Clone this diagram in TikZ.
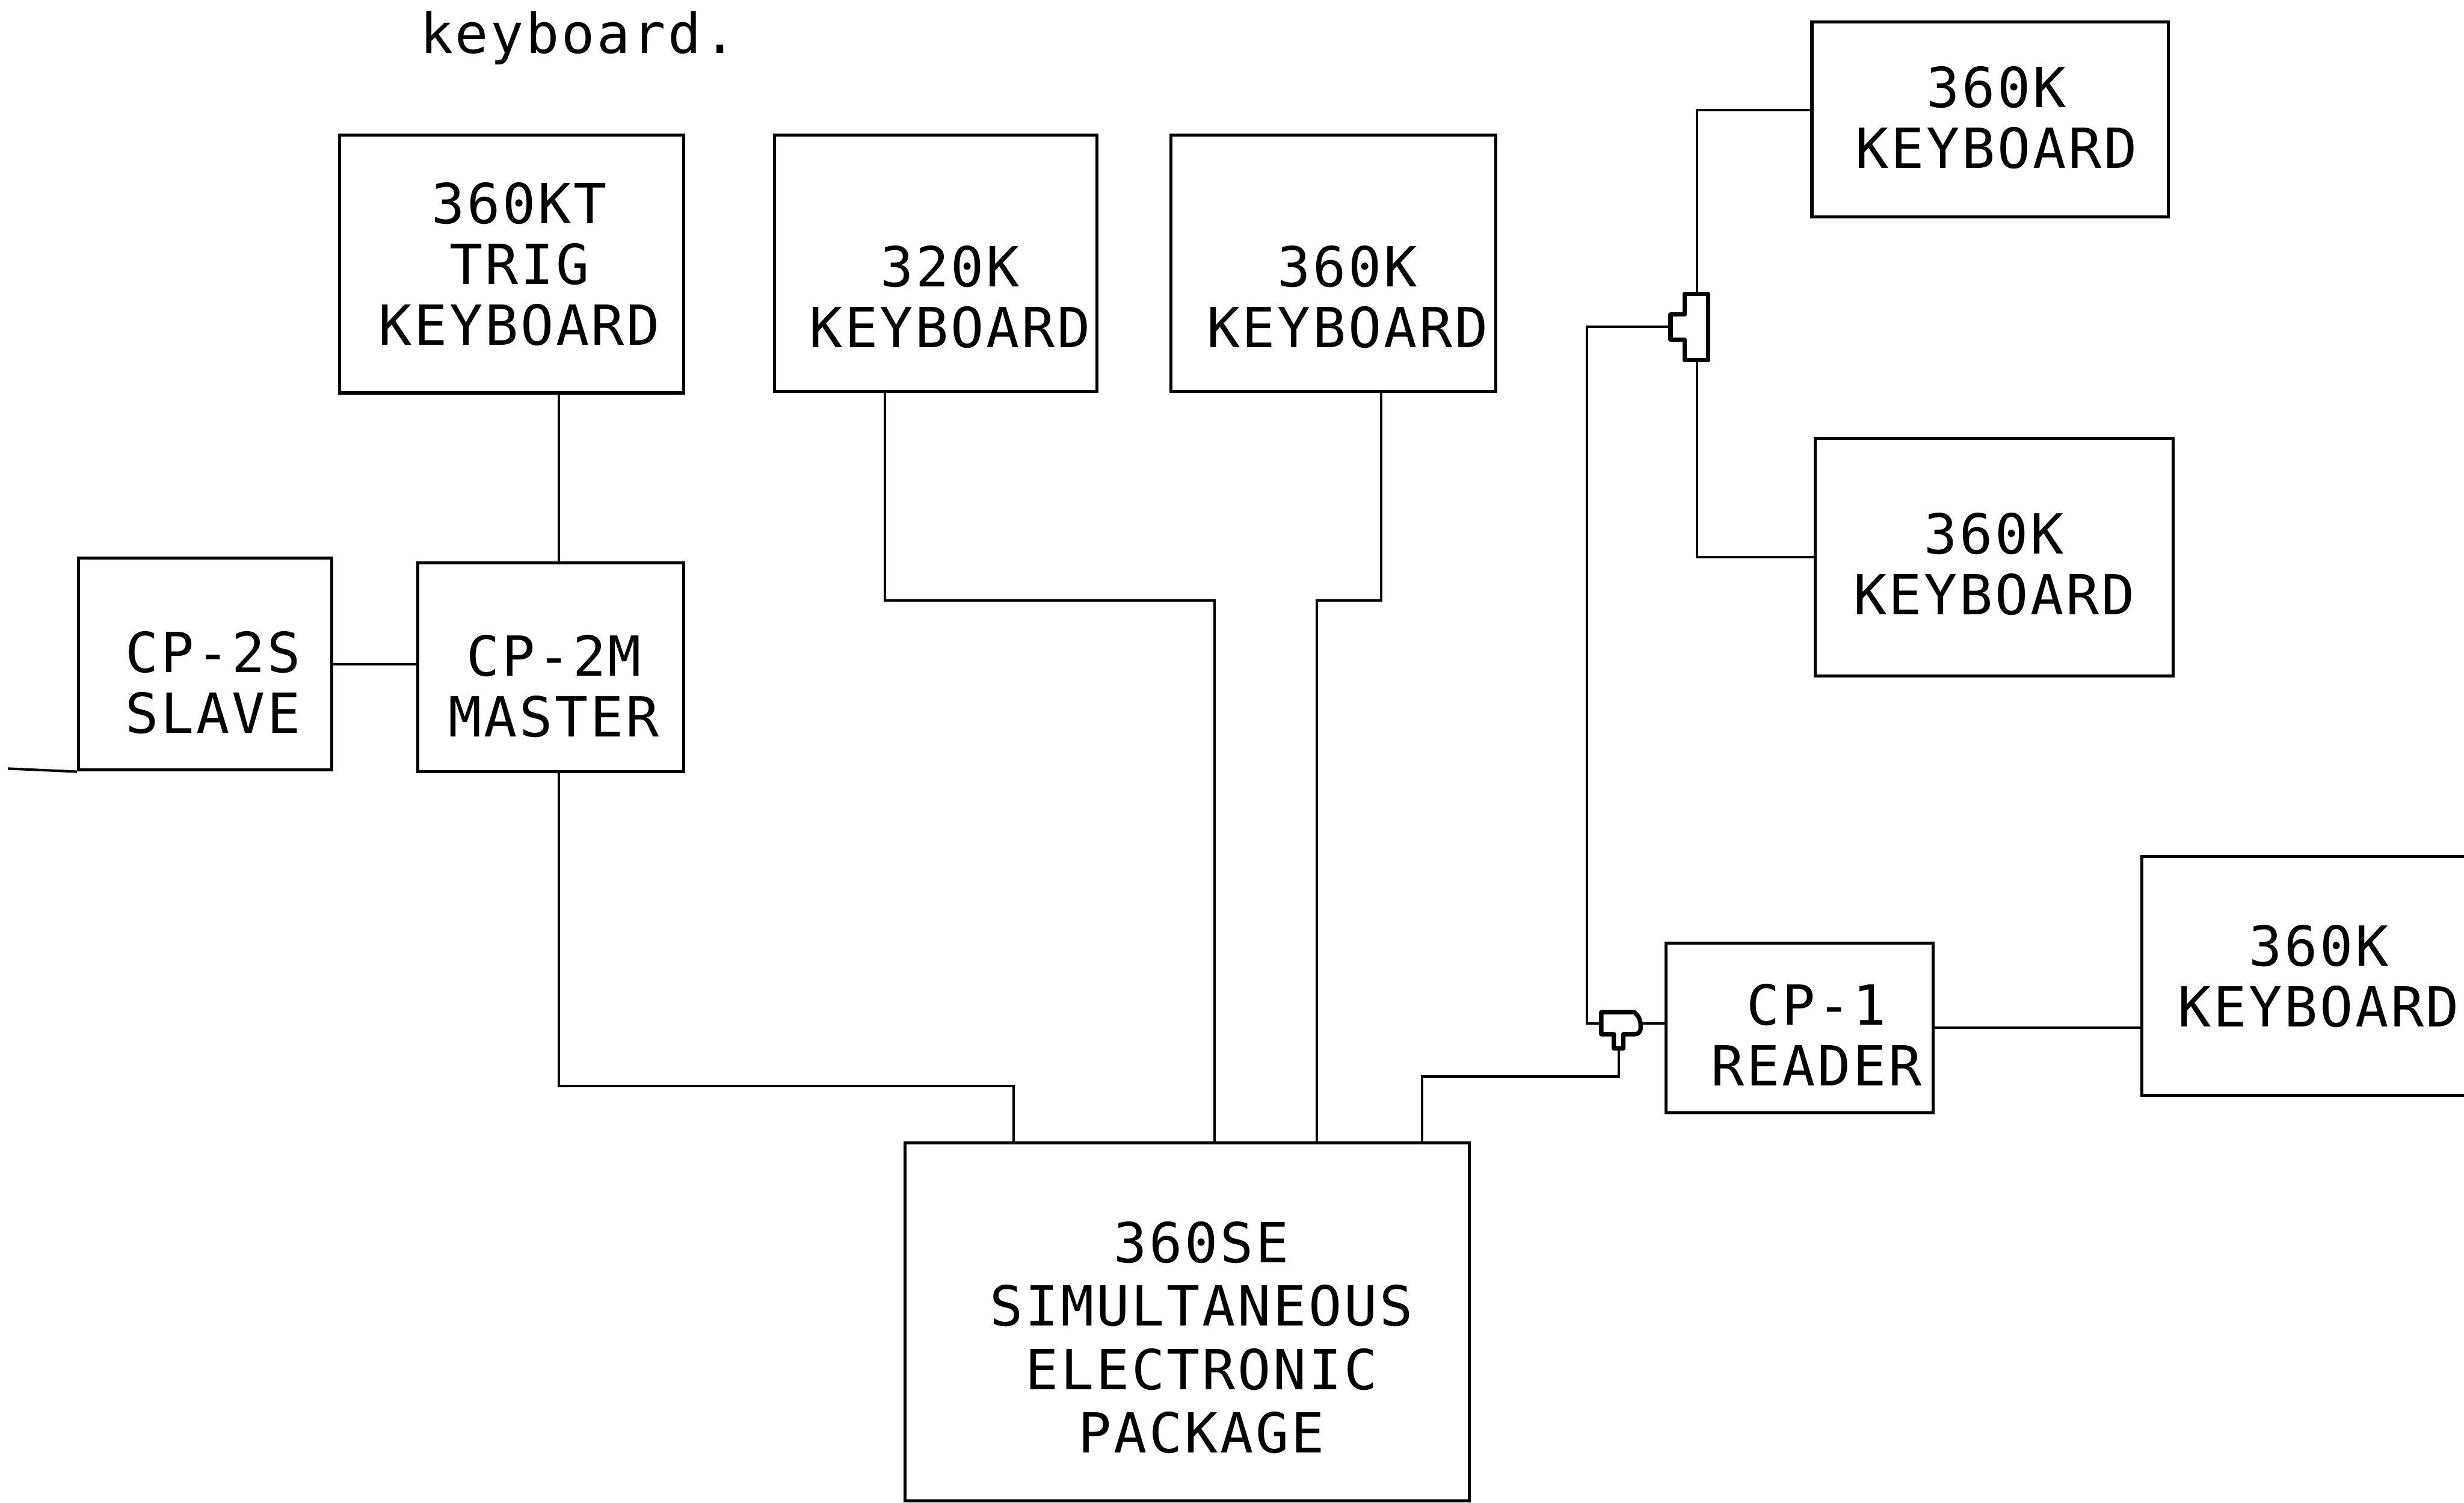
\documentclass[tikz,border=0pt]{standalone}
\usepackage{fontspec}
\newfontfamily\typefont[LetterSpace=4]{DejaVu Sans Mono}
\usetikzlibrary{positioning}

\begin{document}
\begin{tikzpicture}[x=0.02cm, y=-0.02cm,
    font=\typefont\fontsize{20}{22}\selectfont,
    box/.style={draw, line width=1.1pt, inner sep=0pt},
    txt/.style={align=center, inner sep=0pt},
    wire/.style={line width=0.9pt},
    tee/.style={line width=1.6pt, line join=round}]
  \useasboundingbox (0,0) rectangle (1568,956);
  \node[anchor=base west] (note) at (261,34) {keyboard.};
  % keyboards along the top
  \node[box, minimum width=4.38cm, minimum height=3.28cm, label={[txt, xshift=0.1cm]center:360KT\\TRIG\\KEYBOARD}] (trig) at (325.5,168) {};
  \node[box, minimum width=4.10cm, minimum height=3.26cm, label={[txt, xshift=0.18cm, yshift=-0.43cm]center:320K\\KEYBOARD}] (kb320) at (595.5,167.5) {};
  \node[box, minimum width=4.14cm, minimum height=3.26cm, label={[txt, xshift=0.18cm, yshift=-0.43cm]center:360K\\KEYBOARD}] (kbmid) at (848.5,167.5) {};
  \node[box, minimum width=4.54cm, minimum height=2.48cm, label={[txt, xshift=0.08cm, yshift=0.02cm]center:360K\\KEYBOARD}] (kbtop) at (1266.5,76) {};
  \node[box, minimum width=4.56cm, minimum height=3.02cm, label={[txt, yshift=-0.09cm]center:360K\\KEYBOARD}] (kbtwo) at (1269,354.5) {};
  % couplers and reader
  \node[box, minimum width=3.22cm, minimum height=2.70cm, label={[txt, xshift=0.1cm, yshift=-0.24cm]center:CP-2S\\SLAVE}] (slave) at (130.5,422.5) {};
  \node[box, minimum width=3.38cm, minimum height=2.66cm, label={[txt, xshift=0.04cm, yshift=-0.24cm]center:CP-2M\\MASTER}] (master) at (350.5,424.5) {};
  \node[box, minimum width=3.40cm, minimum height=2.16cm, label={[txt, xshift=0.22cm, yshift=-0.09cm]center:CP-1\\READER}] (reader) at (1145,654) {};
  \node[box, minimum width=4.18cm, minimum height=3.04cm, label={[txt, xshift=0.16cm]center:360K\\KEYBOARD}] (kbend) at (1467.5,621) {};
  \node[box, minimum width=7.18cm, minimum height=4.56cm, label={[txt, xshift=0.18cm, yshift=-0.2cm, font=\typefont\fontsize{20}{23}\selectfont]center:360SE\\SIMULTANEOUS\\ELECTRONIC\\PACKAGE}] (pkg) at (755.5,841) {};
  % T adapters
  \coordinate (tup) at (1080,208);
  \coordinate (tlo) at (1030,651);
  \draw[tee] (tup) ++(-8,-21) -- ++(15,0) -- ++(0,42) -- ++(-15,0) -- ++(0,-13) -- ++(-9,0) -- ++(0,-16) -- ++(9,0) -- cycle;
  \draw[tee] (tlo) ++(-11,-7) -- ++(21,0) [rounded corners=2pt] -- ++(4,4) -- ++(0,10) [sharp corners] -- ++(-11,0) -- ++(0,9) -- ++(-6,0) -- ++(0,-9) -- ++(-8,0) -- cycle;
  \coordinate (tup-n) at (1080,187);
  \coordinate (tup-s) at (1080,229);
  \coordinate (tup-w) at (1063,208);
  \coordinate (tlo-w) at (1019,651);
  \coordinate (tlo-e) at (1044,651);
  \coordinate (tlo-s) at (1030,666);
  % connections
  \coordinate (lead) at (5,489);
  \draw[wire] (lead) -- (slave.south west);
  \draw[wire] (slave.east) -- (slave.east -| master.west);
  \draw[wire] ([xshift=1mm]master.north) -- ([xshift=1mm]master.north |- trig.south);
  \draw[wire] ([xshift=1mm]master.south) -- ++(0,199) -| ([xshift=-2.21cm]pkg.north);
  \draw[wire] ([xshift=-0.65cm]kb320.south) -- ++(0,132) -| ([xshift=0.35cm]pkg.north);
  \draw[wire] ([xshift=0.61cm]kbmid.south) -- ++(0,132) -| ([xshift=1.65cm]pkg.north);
  \draw[wire] ([xshift=2.99cm]pkg.north) -- ++(0,-41) -| (tlo-s);
  \draw[wire] (tlo-e) -- (tlo-e -| reader.west);
  \draw[wire] (tup-w) -- ++(-53,0) |- (tlo-w);
  \draw[wire] (tup-n) |- ([yshift=0.12cm]kbtop.west);
  \draw[wire] (tup-s) |- (kbtwo.west);
  \draw[wire] (reader.east) -- (reader.east -| kbend.west);
\end{tikzpicture}
\end{document}
